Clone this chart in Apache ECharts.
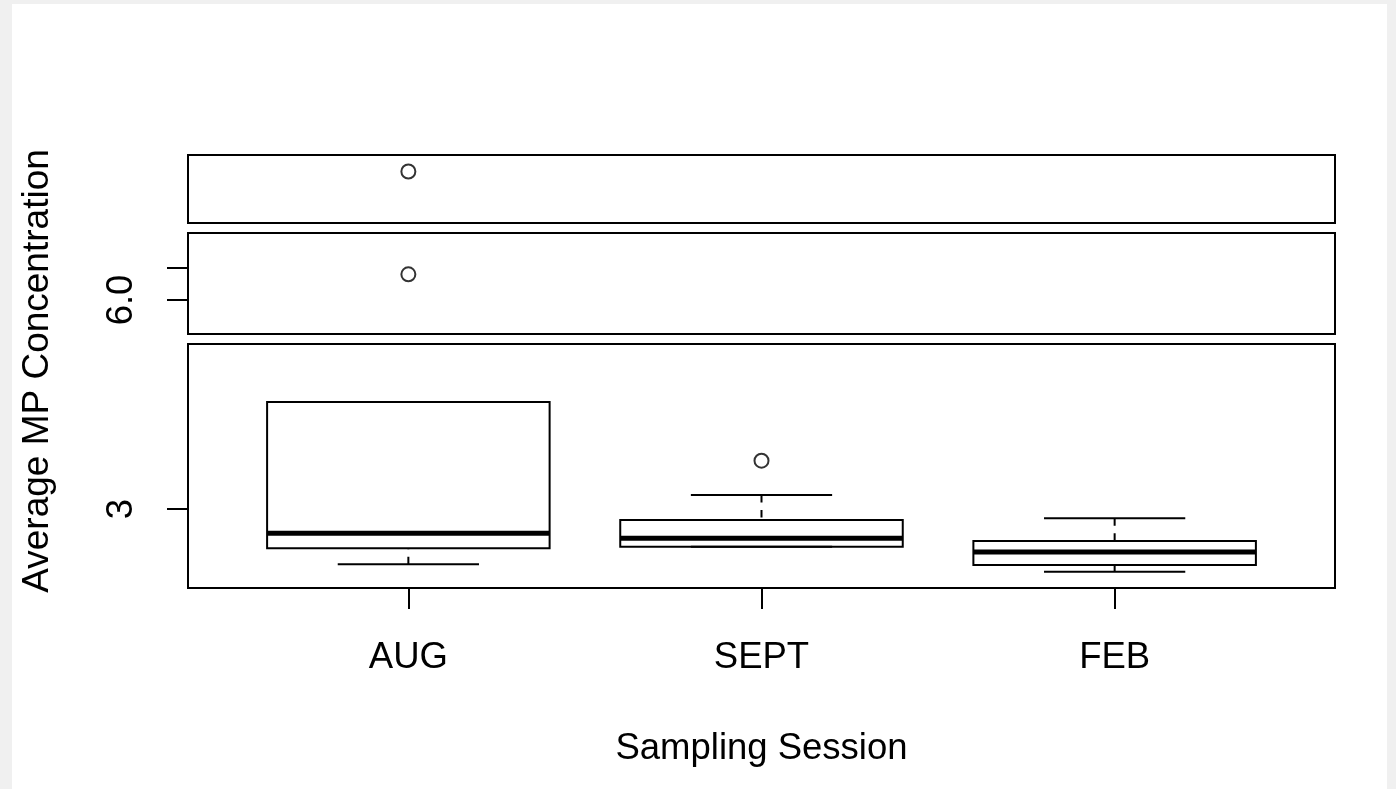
<!DOCTYPE html>
<html><head><meta charset="utf-8">
<script src="https://cdn.jsdelivr.net/npm/echarts@6/dist/echarts.min.js"></script>
<style>
html,body{margin:0;padding:0;background:#f0f0f0;width:1396px;height:789px;overflow:hidden}
#paper{position:absolute;left:12px;top:4px;width:1375px;height:785px;background:#fff}
#chart{position:absolute;left:0;top:0;width:1396px;height:789px}
</style></head><body>
<div id="paper"></div><div id="chart"></div>
<script>
// ---- data ----
const categories = ['AUG', 'SEPT', 'FEB'];
const whiskerLow  = [2.154, 2.424, 2.041];
const q1          = [2.399, 2.424, 2.144];
const median      = [2.628, 2.552, 2.343];
const q3          = [4.636, 2.832, 2.511];
const whiskerHigh = [4.636, 3.214, 2.858];
// outliers: [category position (1-based), value]
const outliersLow = [[2, 3.739]];
const outliersMid = [[1, 6.393]];
const outliersTop = [[1, 8.757]];
const yTicksLow = [3];
const yLabelsLow = [3];
const yTicksMid = [6.0, 6.5];
const yLabelsMid = [6.0];
const xTitle = 'Sampling Session';
const yTitle = 'Average MP Concentration';

// ---- styling ----
const FONT = '"Liberation Sans", Arial, sans-serif';
const FS = 36.5;
const X_MIN = 0.376, X_MAX = 3.624;
const boxRows = categories.map((c, i) => [i + 1, whiskerLow[i], q1[i], median[i], q3[i], whiskerHigh[i]]);

function renderBox(params, api) {
  const x = api.value(0);
  const half = api.size([0.8, 0])[0] / 2;
  const capHalf = half / 2;
  const cx = api.coord([x, api.value(3)])[0];
  const yLo = api.coord([x, api.value(1)])[1];
  const yA = api.coord([x, api.value(2)])[1];
  const yM = api.coord([x, api.value(3)])[1];
  const yB = api.coord([x, api.value(4)])[1];
  const yHi = api.coord([x, api.value(5)])[1];
  const solid = { stroke: '#000', lineWidth: 2 };
  const dashed = { stroke: '#000', lineWidth: 2, lineDash: [7.5, 7.5] };
  return {
    type: 'group',
    children: [
      { type: 'line', shape: { x1: cx, y1: yHi, x2: cx, y2: yB }, style: dashed },
      { type: 'line', shape: { x1: cx, y1: yLo, x2: cx, y2: yA }, style: dashed },
      { type: 'line', shape: { x1: cx - capHalf, y1: yHi, x2: cx + capHalf, y2: yHi }, style: solid },
      { type: 'line', shape: { x1: cx - capHalf, y1: yLo, x2: cx + capHalf, y2: yLo }, style: solid },
      { type: 'rect', shape: { x: cx - half, y: yB, width: 2 * half, height: yA - yB }, style: { stroke: '#000', lineWidth: 2, fill: 'none' } },
      { type: 'line', shape: { x1: cx - half, y1: yM, x2: cx + half, y2: yM }, style: { stroke: '#000', lineWidth: 5 } }
    ]
  };
}

const gridBase = { left: 188, right: 61, show: true, borderColor: '#000', borderWidth: 2, backgroundColor: 'transparent' };
const hiddenX = i => ({ type: 'value', gridIndex: i, min: X_MIN, max: X_MAX, show: false });
const scatterStyle = { symbol: 'circle', symbolSize: 14, itemStyle: { color: 'transparent', borderColor: '#000', borderWidth: 2 }, silent: true };

const chart = echarts.init(document.getElementById('chart'), null, { renderer: 'canvas' });
chart.setOption({
  animation: false,
  backgroundColor: 'transparent',
  textStyle: { fontFamily: FONT },
  grid: [
    Object.assign({ top: 155, height: 68 }, gridBase),
    Object.assign({ top: 233, height: 101 }, gridBase),
    Object.assign({ top: 344, height: 244 }, gridBase)
  ],
  xAxis: [
    hiddenX(0),
    hiddenX(1),
    {
      type: 'value', gridIndex: 2, min: X_MIN, max: X_MAX,
      axisLine: { show: false }, splitLine: { show: false },
      axisTick: { show: true, length: 21, customValues: [1, 2, 3], lineStyle: { color: '#000', width: 2 } },
      axisLabel: { customValues: [1, 2, 3], formatter: v => categories[Math.round(v) - 1], color: '#000', fontSize: FS, fontFamily: FONT, margin: 52, lineHeight: 36 },
      name: xTitle, nameLocation: 'middle', nameGap: 143,
      nameTextStyle: { color: '#000', fontSize: FS, fontFamily: FONT, lineHeight: 36 }
    }
  ],
  yAxis: [
    { type: 'value', gridIndex: 0, min: 8, max: 9, axisLine: { show: false }, axisTick: { show: false }, axisLabel: { show: false }, splitLine: { show: false } },
    {
      type: 'value', gridIndex: 1, min: 5.4801, max: 7.0245,
      axisLine: { show: false }, splitLine: { show: false },
      axisTick: { show: true, length: 21, customValues: yTicksMid, lineStyle: { color: '#000', width: 2 } },
      axisLabel: { customValues: yLabelsMid, formatter: v => v.toFixed(1), rotate: 90, color: '#000', fontSize: FS, fontFamily: FONT, margin: 48, lineHeight: 36 }
    },
    {
      type: 'value', gridIndex: 2, min: 1.792, max: 5.523,
      axisLine: { show: false }, splitLine: { show: false },
      axisTick: { show: true, length: 21, customValues: yTicksLow, lineStyle: { color: '#000', width: 2 } },
      axisLabel: { customValues: yLabelsLow, formatter: v => String(v), rotate: 90, color: '#000', fontSize: FS, fontFamily: FONT, margin: 48, lineHeight: 36 }
    }
  ],
  graphic: [
    { type: 'text', x: 38, y: 371, rotation: Math.PI / 2, style: { text: yTitle, fill: '#000', font: '37px ' + FONT, textAlign: 'center', textVerticalAlign: 'middle' } }
  ],
  series: [
    { type: 'custom', xAxisIndex: 2, yAxisIndex: 2, data: boxRows, renderItem: renderBox, encode: { x: 0, y: [1, 2, 3, 4, 5] }, silent: true },
    Object.assign({ type: 'scatter', xAxisIndex: 2, yAxisIndex: 2, data: outliersLow }, scatterStyle),
    Object.assign({ type: 'scatter', xAxisIndex: 1, yAxisIndex: 1, data: outliersMid }, scatterStyle),
    Object.assign({ type: 'scatter', xAxisIndex: 0, yAxisIndex: 0, data: outliersTop }, scatterStyle)
  ]
});
</script>
</body></html>
